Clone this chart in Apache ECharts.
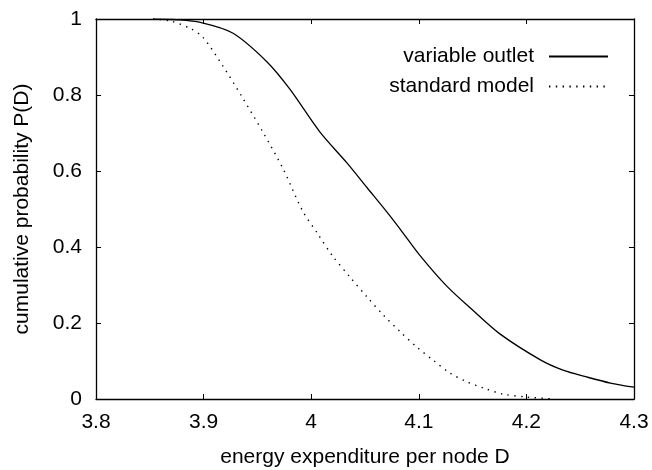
<!DOCTYPE html>
<html>
<head>
<meta charset="utf-8">
<script src="https://cdn.jsdelivr.net/npm/echarts@6/dist/echarts.min.js"></script>
<style>
  html, body { margin: 0; padding: 0; background: #fff; }
  #chart { width: 652px; height: 470px; }
</style>
</head>
<body>
<div id="chart"></div>
<script>
  // values
  var xTicks = [3.8, 3.9, 4.0, 4.1, 4.2, 4.3];
  var yTicks = [0, 0.2, 0.4, 0.6, 0.8, 1];

  var outletX = [3.853, 3.875, 3.897, 3.927, 3.959, 3.980, 4.008, 4.033, 4.052, 4.071, 4.083, 4.101, 4.126, 4.150, 4.175, 4.213, 4.234, 4.256, 4.278, 4.30];
  var outletY = [1.0, 0.998, 0.991, 0.963, 0.887, 0.816, 0.703, 0.622, 0.556, 0.490, 0.446, 0.378, 0.297, 0.234, 0.172, 0.103, 0.076, 0.058, 0.042, 0.031];

  var standardX = [3.853, 3.869, 3.887, 3.899, 3.918, 3.937, 3.955, 3.974, 3.992, 4.006, 4.020, 4.036, 4.052, 4.067, 4.083, 4.098, 4.113, 4.129, 4.145, 4.160, 4.178, 4.201, 4.226];
  var standardY = [1.0, 0.995, 0.976, 0.953, 0.876, 0.789, 0.703, 0.605, 0.495, 0.435, 0.376, 0.321, 0.268, 0.221, 0.176, 0.137, 0.103, 0.068, 0.045, 0.029, 0.013, 0.005, 0.0];

  function pairs(xs, ys) {
    return xs.map(function (x, i) { return [x, ys[i]]; });
  }

  var chartDom = document.getElementById('chart');
  var myChart = echarts.init(chartDom, null, { renderer: 'canvas' });
  var font = '"Liberation Sans", Arial, Helvetica, sans-serif';
  var fs = 21;

  var frameLine = { show: true, onZero: false, lineStyle: { color: '#000', width: 1.3 } };
  var innerTick = { show: true, inside: true, length: 5, lineStyle: { color: '#000', width: 1 } };

  function tickFmt(v) { return String(Math.round(v * 10) / 10); }

  var option = {
    animation: false,
    backgroundColor: '#fff',
    textStyle: { fontFamily: font, color: '#000' },
    grid: { left: 96, right: 18, top: 19, bottom: 71, containLabel: false, outerBoundsMode: 'none' },
    legend: {
      orient: 'vertical',
      right: 38,
      top: 41,
      align: 'right',
      itemWidth: 59,
      itemHeight: 14,
      itemGap: 9,
      itemStyle: { opacity: 0 },
      textStyle: { fontFamily: font, fontSize: fs, color: '#000', padding: [0, 10, 0, 0] },
      data: ['variable outlet', 'standard model']
    },
    xAxis: [
      {
        type: 'value',
        min: xTicks[0],
        max: xTicks[xTicks.length - 1],
        interval: 0.1,
        name: 'energy expenditure per node D',
        nameLocation: 'middle',
        nameGap: 48,
        nameTextStyle: { fontFamily: font, fontSize: fs, color: '#000' },
        axisLine: frameLine,
        axisTick: innerTick,
        splitLine: { show: false },
        axisLabel: { fontFamily: font, fontSize: fs, color: '#000', margin: 13, formatter: tickFmt }
      },
      {
        type: 'value',
        position: 'top',
        min: xTicks[0],
        max: xTicks[xTicks.length - 1],
        interval: 0.1,
        axisLine: frameLine,
        axisTick: innerTick,
        splitLine: { show: false },
        axisLabel: { show: false }
      }
    ],
    yAxis: [
      {
        type: 'value',
        min: yTicks[0],
        max: yTicks[yTicks.length - 1],
        interval: 0.2,
        name: 'cumulative probability P(D)',
        nameLocation: 'middle',
        nameGap: 63,
        nameTextStyle: { fontFamily: font, fontSize: fs, color: '#000' },
        axisLine: frameLine,
        axisTick: innerTick,
        splitLine: { show: false },
        axisLabel: { fontFamily: font, fontSize: fs, color: '#000', margin: 14, formatter: tickFmt }
      },
      {
        type: 'value',
        position: 'right',
        min: yTicks[0],
        max: yTicks[yTicks.length - 1],
        interval: 0.2,
        axisLine: frameLine,
        axisTick: innerTick,
        splitLine: { show: false },
        axisLabel: { show: false }
      }
    ],
    series: [
      {
        name: 'variable outlet',
        type: 'line',
        symbol: 'none',
        smooth: 0.3,
        color: '#000',
        lineStyle: { color: '#000', width: 1.3, type: 'solid' },
        data: pairs(outletX, outletY)
      },
      {
        name: 'standard model',
        type: 'line',
        symbol: 'none',
        smooth: 0.3,
        color: '#000',
        lineStyle: { color: '#000', width: 1.4, type: [1.4, 5.4] },
        data: pairs(standardX, standardY)
      }
    ]
  };

  option && myChart.setOption(option);
</script>
</body>
</html>
